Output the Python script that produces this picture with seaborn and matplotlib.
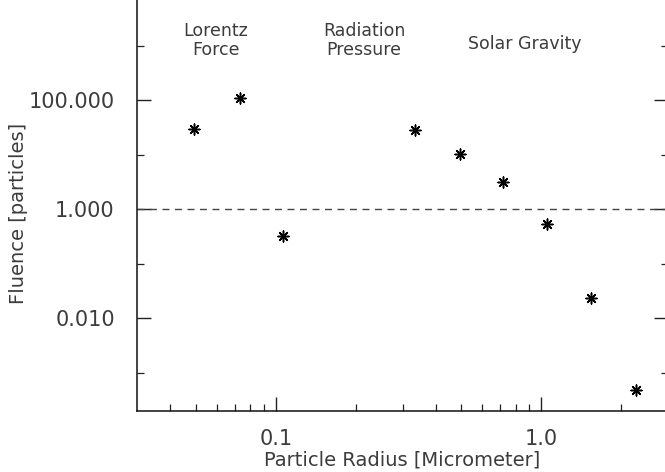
import numpy as np
import pandas as pd
import matplotlib
matplotlib.use("Agg")
import matplotlib.pyplot as plt
import seaborn as sns
from matplotlib.ticker import FixedLocator, NullFormatter

# Data
radius = [0.049, 0.073, 0.106, 0.333, 0.492, 0.720, 1.05, 1.54, 2.28]
fluence = [29.4, 109.0, 0.32, 28.2, 10.2, 3.13, 0.53, 0.0233, 0.00048]

x_major = [0.1, 1.0]
x_major_labels = ["0.1", "1.0"]
x_minor = [0.04, 0.05, 0.06, 0.07, 0.08, 0.09, 0.2, 0.3, 0.4, 0.5, 0.6, 0.7, 0.8, 0.9, 2.0, 3.0]
y_major = [100.0, 1.0, 0.01]
y_major_labels = ["100.000", "1.000", "0.010"]
y_minor = [1000.0, 10.0, 0.1, 0.001]

regions = ["Lorentz\nForce", "Radiation\nPressure", "Solar Gravity"]

df = pd.DataFrame({"radius": radius, "fluence": fluence})

sns.set_style("ticks")
plt.rcParams["font.family"] = ["DejaVu Sans"]

W, H = 665, 472
fig = plt.figure(figsize=(W / 100, H / 100), dpi=100)
ax = fig.add_axes([137 / W, 61 / H, 531 / W, 411 / H])

sns.scatterplot(data=df, x="radius", y="fluence", ax=ax, marker=(8, 2, 0),
                s=62, color="black", edgecolor="black", linewidth=1.1, legend=False)

ax.set_xscale("log")
ax.set_yscale("log")
ax.set_xlim(0.03, 3.0)
ax.set_ylim(2e-4, 6840)

ax.axhline(1.0, color="#444444", lw=1.0, ls=(0, (5, 4)))

txtc = "#3c3c3c"
ax.xaxis.set_major_locator(FixedLocator(x_major))
ax.set_xticklabels(x_major_labels)
ax.xaxis.set_minor_locator(FixedLocator(x_minor))
ax.xaxis.set_minor_formatter(NullFormatter())
ax.yaxis.set_major_locator(FixedLocator(y_major))
ax.set_yticklabels(y_major_labels)
ax.yaxis.set_minor_locator(FixedLocator(y_minor))
ax.yaxis.set_minor_formatter(NullFormatter())

ax.tick_params(axis="both", which="major", direction="in", length=10, width=1.0,
               labelsize=15, labelcolor=txtc, color="#222222")
ax.tick_params(axis="both", which="minor", direction="in", length=5, width=0.9,
               color="#222222")
ax.tick_params(axis="y", which="both", right=True, left=True)
ax.tick_params(axis="y", which="major", pad=16)
ax.tick_params(axis="x", which="major", pad=13)

ax.spines["top"].set_visible(False)
for s in ["left", "bottom", "right"]:
    ax.spines[s].set_color("#111111")
    ax.spines[s].set_linewidth(1.1)

ax.set_xlabel("Particle Radius [Micrometer]", fontsize=14, color=txtc, labelpad=1)
ax.set_ylabel("Fluence [particles]", fontsize=14, color=txtc)
ax.yaxis.set_label_coords(-0.205, 0.48)

text_x = [0.149, 0.4275, 0.731]
text_y = [0.902, 0.902, 0.893]
for t, tx, ty in zip(regions, text_x, text_y):
    ax.text(tx, ty, t, transform=ax.transAxes, ha="center", va="center",
            fontsize=12.5, color=txtc, linespacing=1.1)

fig.savefig("out.png", dpi=100)
